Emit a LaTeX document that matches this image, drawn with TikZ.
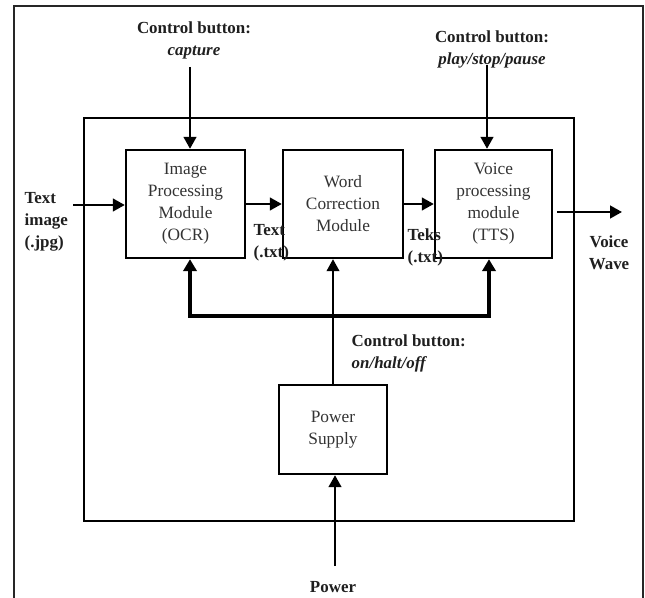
\documentclass[tikz,border=0pt]{standalone}
\usepackage{fontspec}
\setmainfont{Liberation Serif}
\usetikzlibrary{arrows.meta}
\begin{document}
\begin{tikzpicture}[x=0.75pt,y=-0.75pt,
  box/.style={draw, line width=1.8pt, inner sep=0pt, align=center,
    font=\fontsize{13}{16.5}\selectfont, text=black!80},
  lbl/.style={font=\fontsize{12.7}{16.5}\selectfont\bfseries, align=center, text=black!88},
  arr/.style={line width=1.8pt, -{Triangle[length=9pt,width=9.5pt]}},
  bus/.style={line width=2.6pt}]
\useasboundingbox (0,0) rectangle (645,598);
% screenshot frame
\draw[line width=1.3pt, black!85] (14,598) -- (14,6) -- (643,6) -- (643,598);
% inner frame
\draw[line width=1.8pt] (84,118) rectangle (574,521);
% boxes
\node[box, minimum width=89.25pt, minimum height=81pt] (ip) at (185.5,204) {Image\\Processing\\Module\\(OCR)};
\node[box, minimum width=90pt, minimum height=81pt] (wc) at (343,204) {Word\\Correction\\Module};
\node[box, minimum width=87.75pt, minimum height=81pt] (vp) at (493.5,204) {Voice\\processing\\module\\(TTS)};
\node[box, minimum width=81pt, minimum height=66.75pt] (ps) at (333,429.5) {Power\\Supply};
% labels
\node[lbl] (cb1) at (194,40) {Control button:\\\textit{capture}};
\node[lbl] (cb2) at (492,49) {Control button:\\\textit{play/stop/pause}};
\node[lbl, align=left, anchor=west] (ti) at (20,222) {Text\\image\\(.jpg)};
\node[lbl, align=left, anchor=west] (tt) at (249,243) {Text\\(.txt)};
\node[lbl, align=left, anchor=west] (tk) at (403,247) {Teks\\(.txt)};
\node[lbl] (vw) at (609,253) {Voice\\Wave};
\node[lbl, align=left, anchor=west] (cb3) at (347,353) {Control button:\\\textit{on/halt/off}};
\node[lbl] (pw) at (333,587) {Power};
% coordinates
\coordinate (capT) at (190,67);
\coordinate (plT) at (487,65);
\coordinate (tiT) at (73,205);
\coordinate (vo1) at (557,212);
\coordinate (vo2) at (622,212);
\coordinate (pwT) at (335,566);
\coordinate (busL) at (190,316);
\coordinate (busR) at (489,316);
% connectors
\draw[arr] (capT) -- (capT |- ip.north);
\draw[arr] (plT) -- (plT |- vp.north);
\draw[arr] (tiT) -- (tiT -| ip.west);
\draw[arr] (ip.east) -- (wc.west);
\draw[arr] (wc.east) -- (vp.west);
\draw[arr] (vo1) -- (vo2);
\draw[arr] (pwT) -- (pwT |- ps.south);
\draw[line width=1.5pt, -{Triangle[length=9pt,width=9.5pt]}] (ps.north) -- (ps.north |- wc.south);
\draw[bus, {Triangle[length=9pt,width=10pt]}-{Triangle[length=9pt,width=10pt]}] (busL |- ip.south) -- (busL) -- (busR) -- (busR |- vp.south);
\end{tikzpicture}
\end{document}
